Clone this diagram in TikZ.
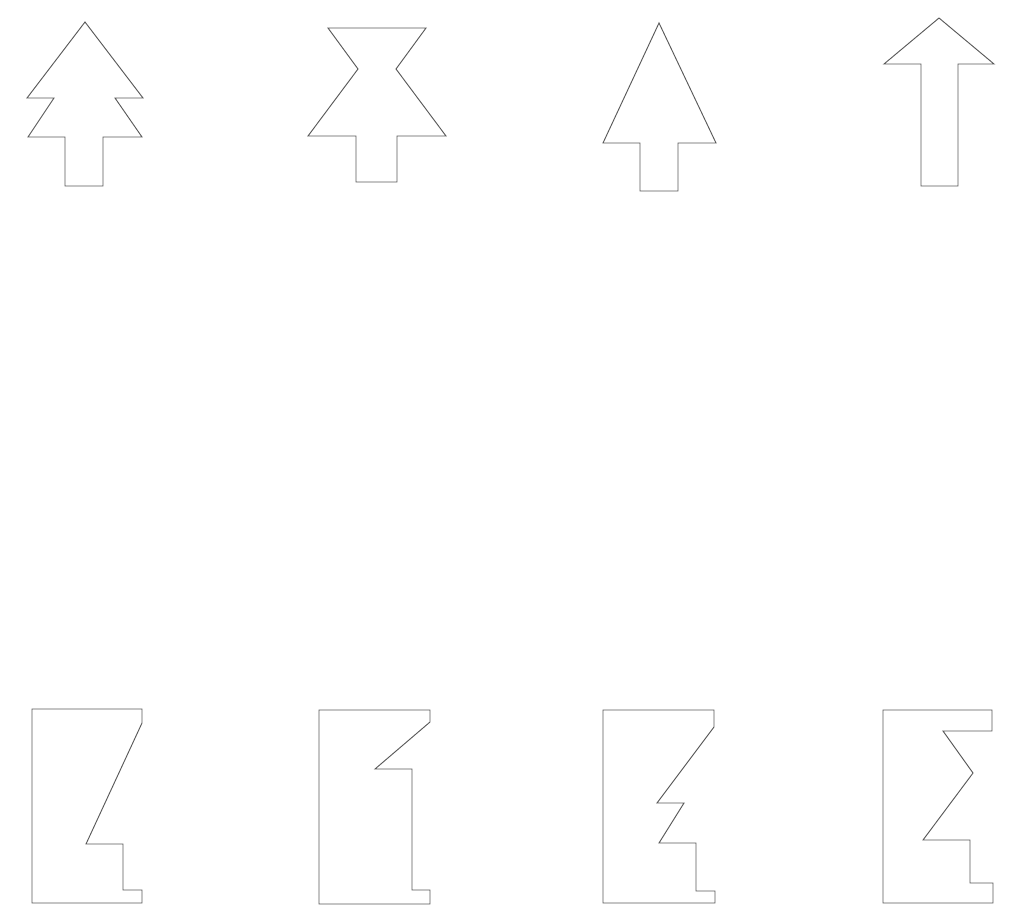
\documentclass[tikz,border=0pt]{standalone}
\begin{document}
\begin{tikzpicture}[x=0.03cm, y=-0.03cm, outline/.style={draw=black!65, line width=0.8pt, line join=miter}]
                    \useasboundingbox (0,0) rectangle (1010,912);
                    % top row
                    \draw[outline] (85,22) -- (143,98) -- (115,98) -- (142,137) -- (103,137) -- (103,186) -- (65,186) -- (65,137) -- (28,137) -- (54,98) -- (27,98) -- cycle;
                    \draw[outline] (328,28) -- (426,28) -- (396,69) -- (446,136) -- (397,136) -- (397,182) -- (356,182) -- (356,136) -- (308,136) -- (358,69) -- cycle;
                    \draw[outline] (659,23) -- (716,143) -- (678,143) -- (678,191) -- (640,191) -- (640,143) -- (603,143) -- cycle;
                    \draw[outline] (939,18) -- (994,64) -- (958,64) -- (958,186) -- (921,186) -- (921,64) -- (884,64) -- cycle;
                    % bottom row
                    \draw[outline] (32,709) -- (142,709) -- (142,723) -- (86,844) -- (123,844) -- (123,890) -- (142,890) -- (142,903) -- (32,903) -- cycle;
                    \draw[outline] (319,710) -- (430,710) -- (430,722) -- (375,769) -- (412,769) -- (412,890) -- (430,890) -- (430,904) -- (319,904) -- cycle;
                    \draw[outline] (603,710) -- (714,710) -- (714,727) -- (657,803) -- (684,803) -- (659,843) -- (696,843) -- (696,891) -- (715,891) -- (715,903) -- (603,903) -- cycle;
                    \draw[outline] (883,710) -- (992,710) -- (992,731) -- (943,731) -- (973,773) -- (923,840) -- (970,840) -- (970,883) -- (993,883) -- (993,903) -- (883,903) -- cycle;
                \end{tikzpicture}
\end{document}
